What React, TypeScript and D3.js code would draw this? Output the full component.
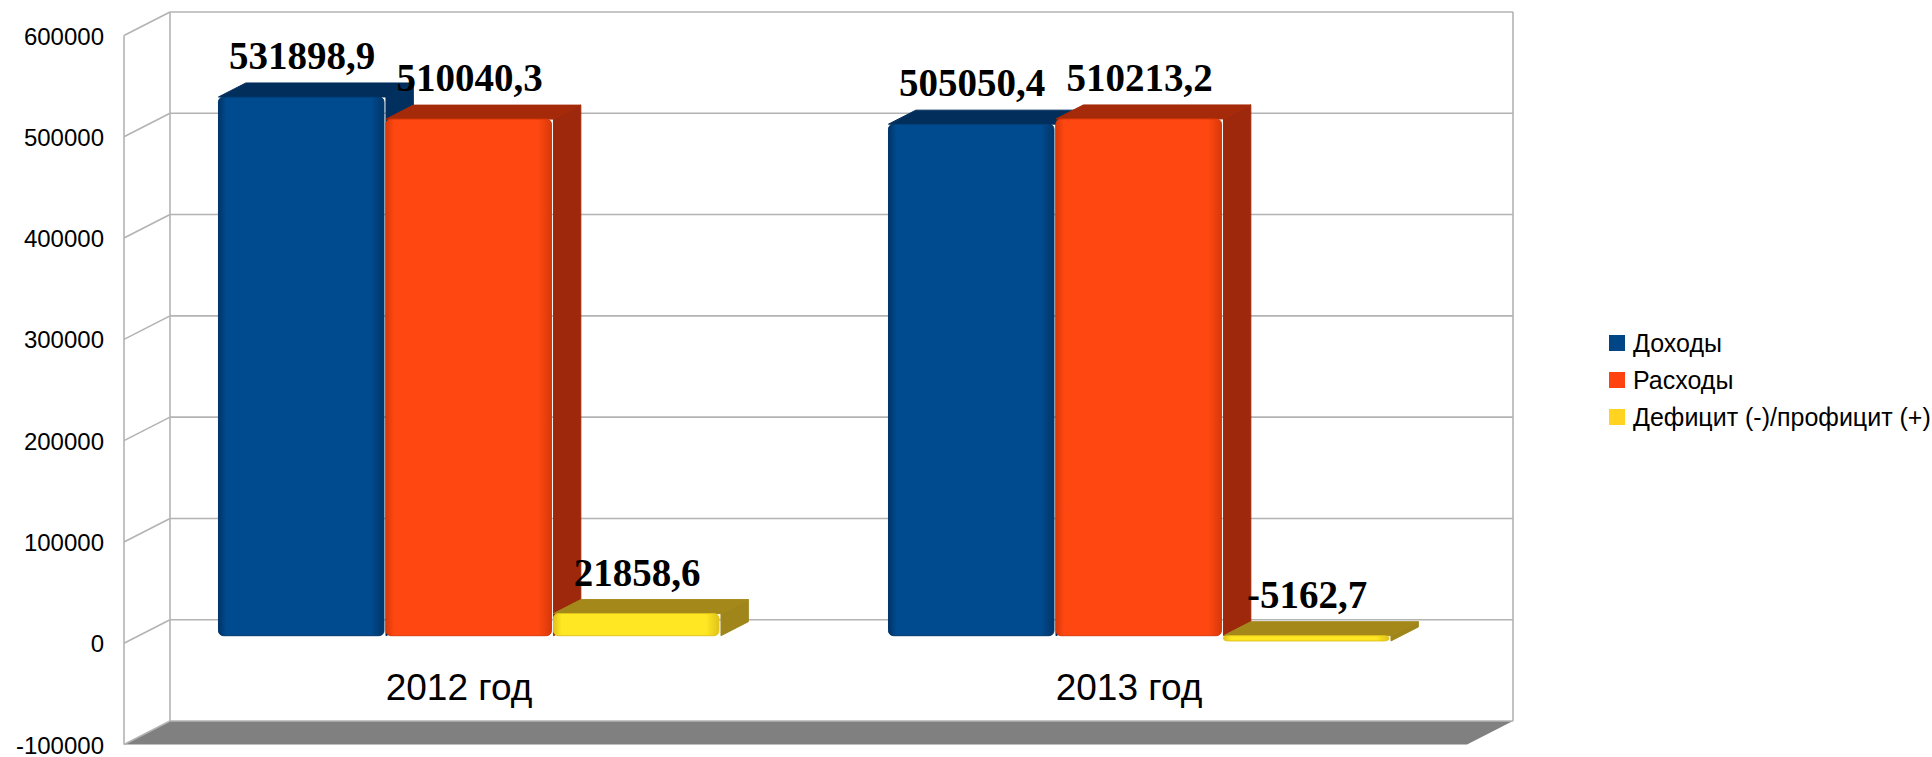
import * as d3 from "d3";

// budget figures, thousands of rubles
const categories = ["2012 год", "2013 год"];
const seriesNames = ["Доходы", "Расходы", "Дефицит (-)/профицит (+)"];
const incomeValues = [531898.9, 505050.4];
const expenseValues = [510040.3, 510213.2];
const balanceValues = [21858.6, -5162.7];
const yTicks = [-100000, 0, 100000, 200000, 300000, 400000, 500000, 600000];

const seriesValues = [incomeValues, expenseValues, balanceValues];

// face colours per series: front, top, side, legend
const palette = [
  { front: "#004b8f", edge: "#003569", top: "#022e5c", side: "#01305f", key: "#004586" },
  { front: "#ff4811", edge: "#d8380a", top: "#a52a0a", side: "#9e280b", key: "#ff420e" },
  { front: "#ffe823", edge: "#e0c41a", top: "#a4891a", side: "#a0861a", key: "#ffd320" },
];

const width = 1932;
const height = 757;

// back wall
const wallLeft = 170;
const wallRight = 1513;
const wallTop = 12;
const wallBottom = 721;
// oblique depth vector (from back plane to front plane)
const depthX = 46;
const depthY = 23.5;
// bar depth (fraction of full depth measured from the back)
const barFront = 0.68;
const barBack = 0.085;

const gridColor = "#b3b3b3";

function fmt(v: number): string {
  return d3.format(".1f")(v).replace(".", ",").replace("−", "-");
}

export default function App() {
  const y = d3.scaleLinear().domain([-100000, 600000]).range([wallBottom, wallTop]);

  const x0 = d3
    .scaleBand<string>()
    .domain(categories)
    .range([166, 1506])
    .paddingInner(0.25)
    .paddingOuter(0.125);

  const x1 = d3
    .scaleBand<number>()
    .domain(seriesNames.map((_, i) => i))
    .range([0, x0.bandwidth()]);

  const fdx = -barFront * depthX;
  const fdy = barFront * depthY;
  const bdx = -barBack * depthX;
  const bdy = barBack * depthY;

  const pts = (p: [number, number][]) => p.map((q) => q.join(",")).join(" ");

  const bars: JSX.Element[] = [];
  const labels: JSX.Element[] = [];

  categories.forEach((cat, ci) => {
    seriesValues.forEach((vals, si) => {
      const v = vals[ci];
      const c = palette[si];
      const xa = (x0(cat) ?? 0) + (x1(si) ?? 0);
      const xb = xa + x1.bandwidth();
      const yt = y(Math.max(v, 0));
      const yb = y(Math.min(v, 0));
      const key = `${ci}-${si}`;

      bars.push(
        <g key={key}>
          <polygon
            points={pts([
              [xb + fdx, yt + fdy],
              [xb + bdx, yt + bdy],
              [xb + bdx, yb + bdy],
              [xb + fdx, yb + fdy],
            ])}
            fill={c.side}
            stroke={c.side}
            strokeWidth={1}
            strokeLinejoin="round"
          />
          <polygon
            points={pts([
              [xa + fdx, yt + fdy],
              [xb + fdx, yt + fdy],
              [xb + bdx, yt + bdy],
              [xa + bdx, yt + bdy],
            ])}
            fill={c.top}
            stroke={c.top}
            strokeWidth={1}
            strokeLinejoin="round"
          />
          <rect
            x={xa + fdx}
            y={yt + fdy}
            width={xb - xa - 2}
            height={Math.max(yb - yt, 3)}
            rx={5}
            fill={`url(#grad${si})`}
            stroke={c.edge}
            strokeWidth={1}
          />
        </g>,
      );

      labels.push(
        <text
          key={`l${key}`}
          x={(xa + xb) / 2 + fdx}
          y={yt + bdy - 14}
          textAnchor="middle"
          fontFamily="'Liberation Serif', 'Times New Roman', serif"
          fontWeight="bold"
          fontSize={39}
          fill="#000"
        >
          {fmt(v)}
        </text>,
      );
    });
  });

  return (
    <svg
      width={width}
      height={height}
      style={{ position: "absolute", left: 0, top: 0, background: "#fff" }}
    >
      <defs>
        {palette.map((c, i) => (
          <linearGradient key={i} id={`grad${i}`} x1="0" x2="1" y1="0" y2="0">
            <stop offset="0%" stopColor={c.edge} />
            <stop offset="5%" stopColor={c.front} />
            <stop offset="92%" stopColor={c.front} />
            <stop offset="100%" stopColor={c.edge} />
          </linearGradient>
        ))}
      </defs>

      {/* floor */}
      <polygon
        points={pts([
          [wallLeft, wallBottom],
          [wallRight, wallBottom],
          [wallRight - depthX, wallBottom + depthY],
          [wallLeft - depthX, wallBottom + depthY],
        ])}
        fill="#808080"
      />

      {/* back wall and left wall grid */}
      <g stroke={gridColor} strokeWidth={1.6} fill="none">
        {yTicks.map((t) => (
          <g key={t}>
            <line x1={wallLeft} x2={wallRight} y1={y(t)} y2={y(t)} />
            <line x1={wallLeft - depthX} x2={wallLeft} y1={y(t) + depthY} y2={y(t)} />
          </g>
        ))}
        <line x1={wallLeft} x2={wallLeft} y1={wallTop} y2={wallBottom} />
        <line x1={wallRight} x2={wallRight} y1={wallTop} y2={wallBottom} />
        <line
          x1={wallLeft - depthX}
          x2={wallLeft - depthX}
          y1={wallTop + depthY}
          y2={wallBottom + depthY}
        />
      </g>

      {/* y axis labels */}
      <g fontFamily="'Liberation Sans', Arial, sans-serif" fontSize={24} fill="#000">
        {yTicks.map((t) => (
          <text
            key={t}
            x={104}
            y={y(t) + depthY + 9}
            textAnchor="end"
          >
            {t}
          </text>
        ))}
      </g>

      {bars}
      {labels}

      {/* category labels */}
      <g fontFamily="'Liberation Sans', Arial, sans-serif" fontSize={37} fill="#000">
        {categories.map((cat) => (
          <text
            key={cat}
            x={(x0(cat) ?? 0) + x0.bandwidth() / 2 - 42}
            y={700}
            textAnchor="middle"
          >
            {cat}
          </text>
        ))}
      </g>

      {/* legend */}
      <g fontFamily="'Liberation Sans', Arial, sans-serif" fontSize={25} fill="#000">
        {seriesNames.map((name, i) => (
          <g key={name} transform={`translate(1609, ${343 + i * 37})`}>
            <rect x={0} y={-8} width={16} height={16} fill={palette[i].key} />
            <text x={24} y={9}>
              {name}
            </text>
          </g>
        ))}
      </g>
    </svg>
  );
}
